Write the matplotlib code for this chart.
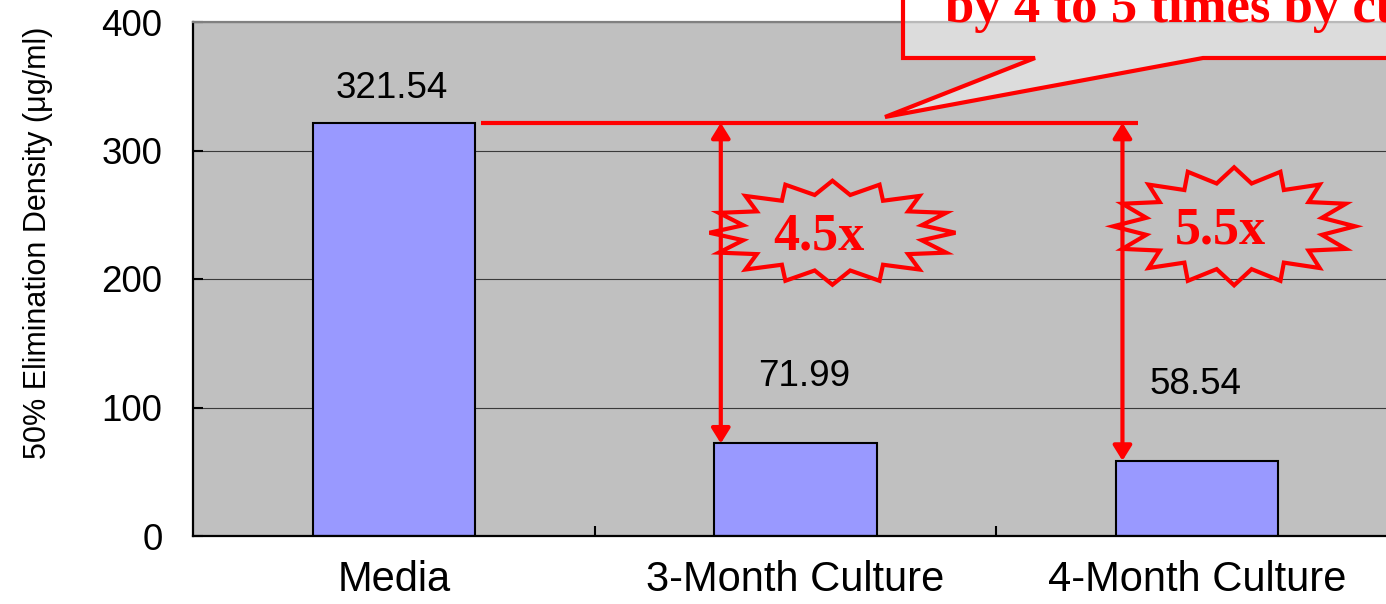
import numpy as np
import matplotlib
matplotlib.use("Agg")
import matplotlib.pyplot as plt
from matplotlib import transforms
from matplotlib.patches import Polygon

# data
categories = ["Media", "3-Month Culture", "4-Month Culture"]
values = [321.54, 71.99, 58.54]
value_labels = ["321.54", "71.99", "58.54"]
fold_labels = ["4.5x", "5.5x"]
callout_text = "by 4 to 5 times by culture"

W, H = 1386, 604
plt.rcParams["font.family"] = ["Liberation Sans", "DejaVu Sans"]

fig = plt.figure(figsize=(W / 100, H / 100), dpi=100)
# axes runs past the right edge of the picture (reference is cropped)
ax = fig.add_axes([193 / W, 68 / H, 1205 / W, 514 / H])
ax.set_facecolor("#C0C0C0")

x = np.arange(len(categories))
bar_w = 0.404
ax.bar(x, values, width=bar_w, color="#9999FF", edgecolor="black", linewidth=1.5, zorder=2)

ax.set_xlim(-0.5, len(categories) - 0.5)
ax.set_ylim(0, 400)
ax.set_yticks(np.arange(0, 401, 100))
ax.yaxis.grid(True, color="#3A3A3A", lw=0.8)
ax.set_axisbelow(True)

ax.set_xticks(x)
ax.set_xticklabels(categories, fontsize=30)
ax.set_xticks(x[:-1] + 0.5, minor=True)
ax.tick_params(axis="x", which="major", length=0, pad=17)
ax.tick_params(axis="x", which="minor", direction="in", length=7, width=1.5)
ax.tick_params(axis="y", direction="in", length=7, width=1.5, labelsize=26.5, pad=22)

for s in ["left", "bottom"]:
    ax.spines[s].set_linewidth(1.6)
    ax.spines[s].set_color("black")
ax.spines["top"].set_color("#808080")
ax.spines["top"].set_linewidth(1.6)
ax.spines["right"].set_visible(False)

fig.text(38 / W, 1 - 243 / H, "50% Elimination Density (μg/ml)", rotation=90,
         ha="center", va="center", fontsize=22)

# value labels (manually nudged in the original)
label_dx = [-0.005, 0.022, -0.005]
label_dy = [27, 52, 59]
for i, (v, t) in enumerate(zip(values, value_labels)):
    ax.text(x[i] + label_dx[i], v + label_dy[i], t, ha="center", va="center", fontsize=26.5)

# red comparison lines
red = "#FF0000"
ref = values[0]
ax.plot([x[0] + bar_w / 2 + 0.015, x[2] - bar_w / 2 + 0.055], [ref, ref],
        color=red, lw=3, solid_capstyle="butt", zorder=4)
for i in (1, 2):
    ax.annotate("", xy=(x[i] - bar_w / 2 + 0.016, values[i]),
                xytext=(x[i] - bar_w / 2 + 0.016, ref),
                arrowprops=dict(arrowstyle="<|-|>,head_length=0.45,head_width=0.28",
                                mutation_scale=20, color=red, lw=3,
                                shrinkA=0, shrinkB=0), zorder=4)

# explosion bursts with fold-change labels
burst_pos = [(1.092, 236), (2.092, 241)]
burst_size = [(1.23, 0.52), (1.21, 0.59)]  # half-width / half-height in inches
n_pts = 16
ang = np.linspace(0, 2 * np.pi, 2 * n_pts, endpoint=False)
rad = np.where(np.arange(2 * n_pts) % 2 == 0, 1.0, 0.74)
for (bx, by), (rx, ry), t in zip(burst_pos, burst_size, fold_labels):
    verts = np.column_stack([rx * rad * np.cos(ang), ry * rad * np.sin(ang)])
    tr = fig.dpi_scale_trans + transforms.ScaledTranslation(bx, by, ax.transData)
    ax.add_patch(Polygon(verts, closed=True, facecolor="none", edgecolor=red,
                         lw=3, transform=tr, joinstyle="miter", zorder=5))
    ax.text(bx - 0.035, by - 3, t, ha="center", va="center", fontsize=37.5,
            fontweight="bold", color=red, family="Liberation Serif", zorder=6)


# callout box (top right, mostly outside the picture)
def px(p):
    return (p[0] / W, 1 - p[1] / H)


callout = [(903, -80), (903, 58), (1035, 58), (885, 117), (1203, 58),
           (1420, 58), (1420, -80)]
fig.patches.append(Polygon([px(p) for p in callout], closed=True,
                           transform=fig.transFigure, facecolor=(1, 1, 1, 0.45),
                           edgecolor=red, lw=3, joinstyle="miter", zorder=2))
fig.text(945 / W, 1 - 22 / H, callout_text, ha="left", va="baseline",
         fontsize=38, fontweight="bold", color=red, family="Liberation Serif", zorder=3)

fig.savefig("out.png", dpi=100)
